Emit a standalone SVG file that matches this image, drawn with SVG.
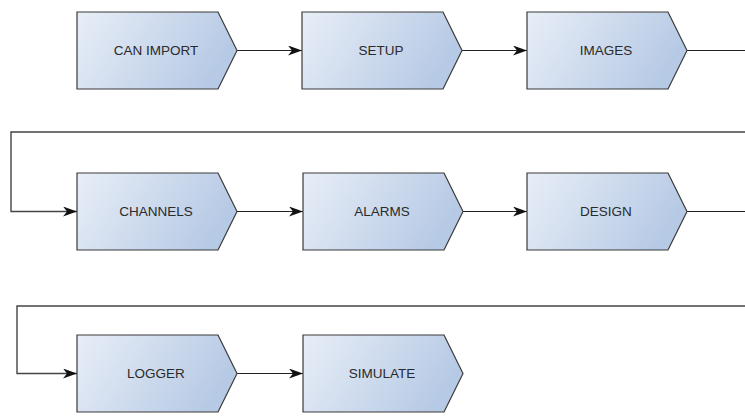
<svg xmlns="http://www.w3.org/2000/svg" width="745" height="416" viewBox="0 0 745 416">
<defs>
<linearGradient id="g" x1="0" y1="0" x2="1" y2="0.3">
<stop offset="0" stop-color="#e8eef7"/>
<stop offset="1" stop-color="#b7cae5"/>
</linearGradient>
<marker id="a" viewBox="0 0 14 10" markerWidth="14" markerHeight="10" refX="14" refY="5" orient="auto" markerUnits="userSpaceOnUse">
<path d="M0,0 L14,5 L0,10 L4,5 Z" fill="#111"/>
</marker>
<path id="shape" d="M0,0 H141 L160,38.5 L141,77 H0 Z"/>
</defs>
<style>
.n use{fill:url(#g);stroke:#3a3a3a;stroke-width:1.2}
.n text{font-family:"Liberation Sans",Arial,sans-serif;font-size:13.5px;fill:#2a2a2a;text-anchor:middle;dominant-baseline:central}
.c path{fill:none;stroke:#222;stroke-width:1.1}
</style>
<g id="connectors" class="c">
<path d="M237,50.5 H302" marker-end="url(#a)"/>
<path d="M462,50.5 H527" marker-end="url(#a)"/>
<path d="M687,50.5 H745"/>
<path d="M745,132 H11 V211.5 H77" marker-end="url(#a)" style="stroke-width:1.4;stroke:#444"/>
<path d="M237,211.5 H303" marker-end="url(#a)"/>
<path d="M462,211.5 H527" marker-end="url(#a)"/>
<path d="M687,211.5 H745"/>
<path d="M745,306 H17 V373.5 H77" marker-end="url(#a)" style="stroke-width:1.4;stroke:#444"/>
<path d="M237,373.5 H303" marker-end="url(#a)"/>
</g>
<g id="can-import" class="n" transform="translate(77,12)"><use href="#shape"/><text x="79" y="38.5">CAN IMPORT</text></g>
<g id="setup" class="n" transform="translate(302,12)"><use href="#shape"/><text x="79" y="38.5">SETUP</text></g>
<g id="images" class="n" transform="translate(527,12)"><use href="#shape"/><text x="79" y="38.5">IMAGES</text></g>
<g id="channels" class="n" transform="translate(77,173)"><use href="#shape"/><text x="79" y="38.5">CHANNELS</text></g>
<g id="alarms" class="n" transform="translate(303,173)"><use href="#shape"/><text x="79" y="38.5">ALARMS</text></g>
<g id="design" class="n" transform="translate(527,173)"><use href="#shape"/><text x="79" y="38.5">DESIGN</text></g>
<g id="logger" class="n" transform="translate(77,335)"><use href="#shape"/><text x="79" y="38.5">LOGGER</text></g>
<g id="simulate" class="n" transform="translate(303,335)"><use href="#shape"/><text x="79" y="38.5">SIMULATE</text></g>
</svg>
